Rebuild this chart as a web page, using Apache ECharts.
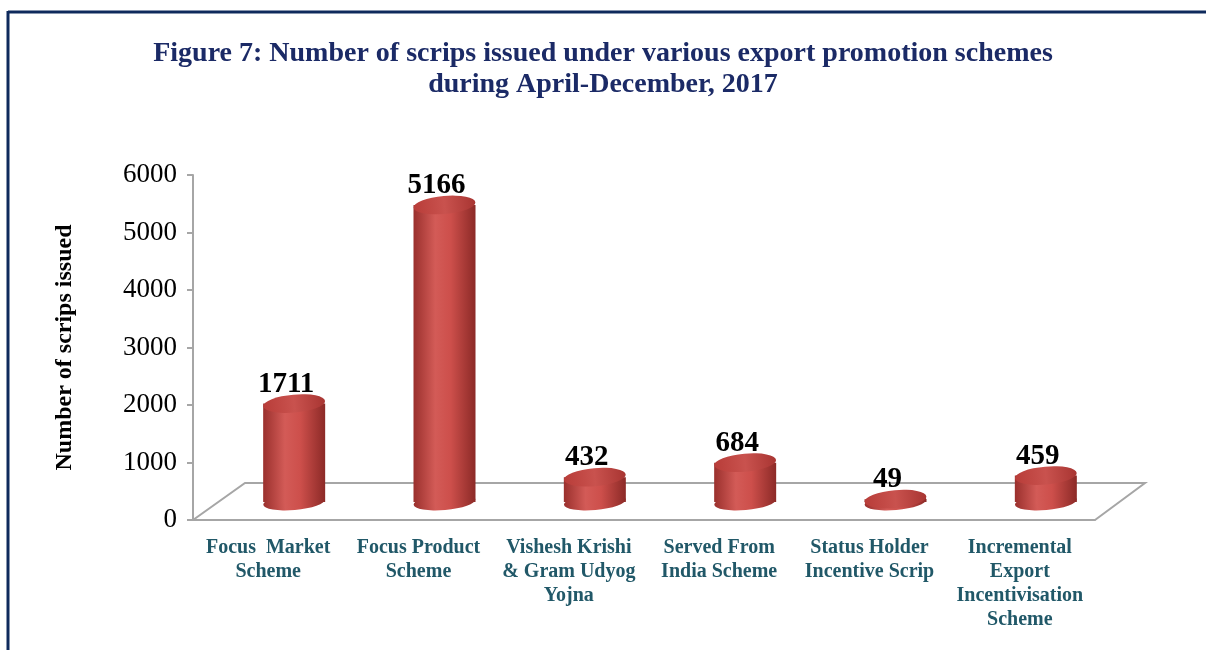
<!DOCTYPE html>
<html>
<head>
<meta charset="utf-8">
<script src="https://cdn.jsdelivr.net/npm/echarts@6/dist/echarts.min.js"></script>
<style>
  html, body { margin: 0; padding: 0; background: #fff; }
  #chart { width: 1206px; height: 650px; }
</style>
</head>
<body>
<div id="chart"></div>
<script>
// data
const categories = [
  'Focus  Market\nScheme',
  'Focus Product\nScheme',
  'Vishesh Krishi\n& Gram Udyog\nYojna',
  'Served From\nIndia Scheme',
  'Status Holder\nIncentive Scrip',
  'Incremental\nExport\nIncentivisation\nScheme'
];
const scrips = [1711, 5166, 432, 684, 49, 459];

const SERIF = '"Liberation Serif", "Times New Roman", serif';

const myChart = echarts.init(document.getElementById('chart'));

// cylinder body colour
const bodyColor = new echarts.graphic.LinearGradient(0, 0, 1, 0, [
  { offset: 0, color: '#9a302d' },
  { offset: 0.35, color: '#d35b57' },
  { offset: 0.6, color: '#cd4f4b' },
  { offset: 1, color: '#8c2a27' }
]);
const topColor = new echarts.graphic.LinearGradient(0, 0, 1, 0, [
  { offset: 0, color: '#b83d39' },
  { offset: 0.5, color: '#c9524e' },
  { offset: 1, color: '#a83532' }
]);

const option = {
  backgroundColor: '#fff',
  title: {
    text: 'Figure 7: Number of scrips issued under various export promotion schemes\nduring April-December, 2017',
    left: 'center',
    top: 33,
    textStyle: {
      fontFamily: SERIF,
      fontWeight: 'bold',
      fontSize: 28,
      lineHeight: 31,
      color: '#1b2a66'
    }
  },
  graphic: [
    // frame
    { type: 'line', shape: { x1: 8, y1: 12, x2: 1206, y2: 12 }, style: { stroke: '#0e2a5c', lineWidth: 3 } },
    { type: 'line', shape: { x1: 8, y1: 11, x2: 8, y2: 650 }, style: { stroke: '#0e2a5c', lineWidth: 3 } },
    // 3d floor
    {
      type: 'polyline',
      shape: { points: [[193, 520], [245, 483], [1145, 483], [1095, 520]] },
      style: { stroke: '#a6a6a6', lineWidth: 2, fill: null }
    }
  ],
  grid: [
    { left: 193, top: 175, width: 902, height: 345 },
    { left: 219, top: 157, width: 902, height: 345 }
  ],
  xAxis: [
    {
      type: 'category',
      gridIndex: 0,
      data: categories,
      axisLine: { lineStyle: { color: '#a6a6a6', width: 2 } },
      axisTick: { length: 6, lineStyle: { color: '#a6a6a6', width: 2 } },
      axisLabel: {
        interval: 0,
        margin: 16,
        fontFamily: SERIF,
        fontWeight: 'bold',
        fontSize: 20,
        lineHeight: 24,
        color: '#215868'
      }
    },
    {
      type: 'category',
      gridIndex: 1,
      data: categories,
      show: false
    }
  ],
  yAxis: [
    {
      type: 'value',
      gridIndex: 0,
      min: 0,
      max: 6000,
      interval: 1000,
      name: 'Number of scrips issued',
      nameLocation: 'middle',
      nameGap: 116,
      nameTextStyle: {
        fontFamily: SERIF,
        fontWeight: 'bold',
        fontSize: 24,
        color: '#000'
      },
      splitLine: { show: false },
      axisLine: { show: true, lineStyle: { color: '#a6a6a6', width: 2 } },
      axisTick: { show: true, length: 6, lineStyle: { color: '#a6a6a6', width: 2 } },
      axisLabel: {
        margin: 16,
        fontFamily: SERIF,
        fontSize: 27,
        color: '#000',
        formatter: (value) => String(value)
      }
    },
    {
      type: 'value',
      gridIndex: 1,
      min: 0,
      max: 6000,
      interval: 1000,
      show: false,
      splitLine: { show: false }
    }
  ],
  series: [
    {
      // bottom ellipse
      type: 'pictorialBar',
      xAxisIndex: 1,
      yAxisIndex: 1,
      data: scrips,
      symbol: 'circle',
      symbolSize: [62, 16],
      symbolOffset: [0, '50%'],
      symbolRotate: 5,
      itemStyle: { color: bodyColor },
      z: 2
    },
    {
      type: 'bar',
      xAxisIndex: 1,
      yAxisIndex: 1,
      data: scrips,
      barWidth: 62,
      itemStyle: { color: bodyColor },
      z: 3
    },
    {
      // top ellipse + value label
      type: 'pictorialBar',
      xAxisIndex: 1,
      yAxisIndex: 1,
      data: scrips,
      symbol: 'circle',
      symbolSize: [62, 18],
      symbolPosition: 'end',
      symbolOffset: [0, '-50%'],
      symbolRotate: 5,
      itemStyle: { color: topColor },
      label: {
        show: true,
        position: 'top',
        distance: -4,
        offset: [-8, 0],
        fontFamily: SERIF,
        fontWeight: 'bold',
        fontSize: 29,
        color: '#000'
      },
      z: 4
    }
  ]
};

option && myChart.setOption(option);
</script>
</body>
</html>
